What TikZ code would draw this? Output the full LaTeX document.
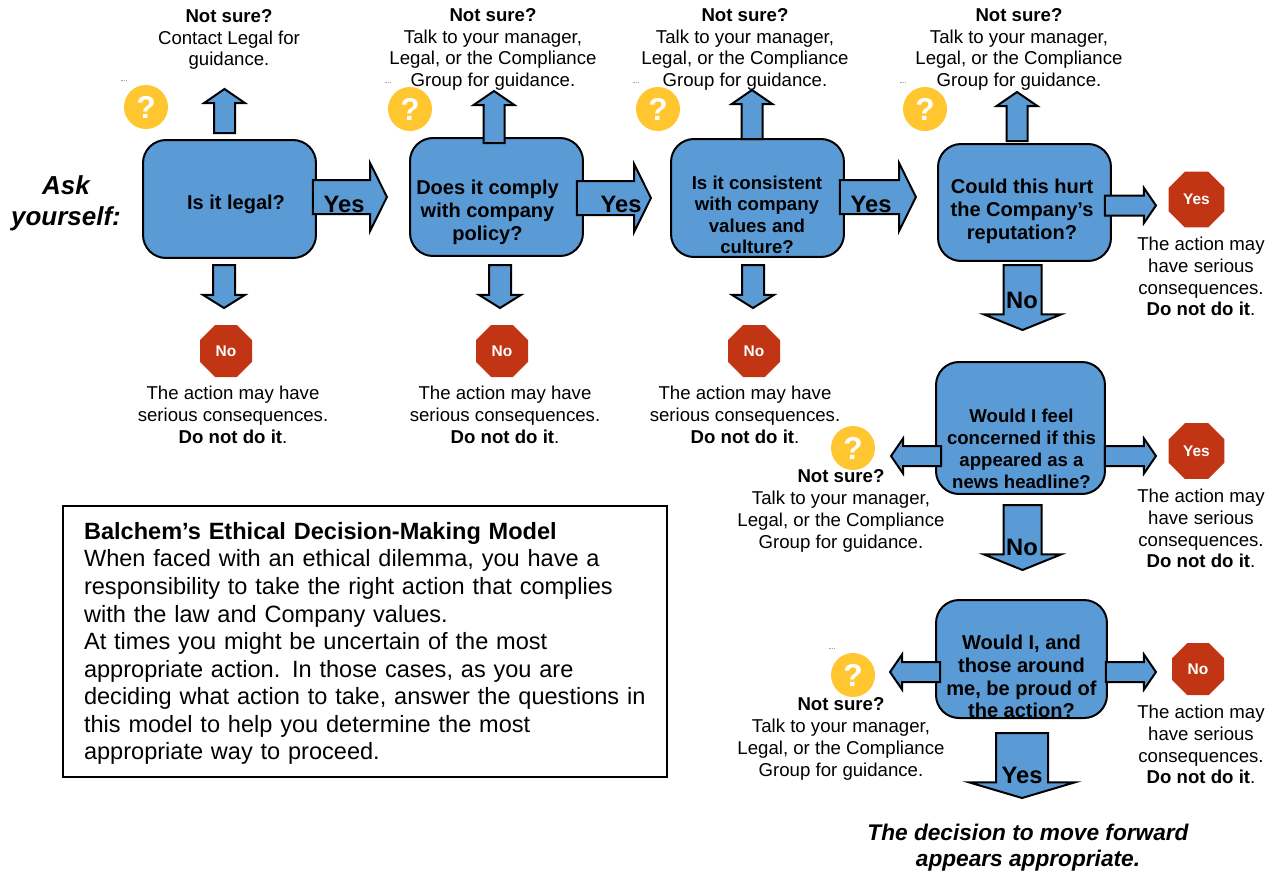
\documentclass[tikz,border=0pt]{standalone}
\usepackage{fontspec}
\setmainfont{Liberation Sans}
\usetikzlibrary{shapes.arrows,shapes.geometric}
\definecolor{boxblue}{HTML}{5B9BD5}
\definecolor{stopred}{HTML}{C23514}
\definecolor{askyellow}{HTML}{FFC62F}
\tikzset{
  question/.style={draw=black, line width=0.04cm, fill=boxblue, rounded corners=0.46cm, inner sep=0pt, outer sep=0pt},
  questiontext/.style={inner sep=0pt, align=center, font=\bfseries\fontsize{11.4}{13}\selectfont},
  blockarrow/.style n args={4}{shape=single arrow, draw=black, line width=0.04cm, fill=boxblue, inner sep=0pt, outer sep=0pt, anchor=tail,
    minimum height=#1*0.02cm, text height=#2*0.02cm, text depth=0pt, single arrow head extend=#3*0.02cm, single arrow tip angle=#4},
  yesarrow/.style={blockarrow={74}{32}{17}{127}},
  smallup/.style={blockarrow={44}{19}{10}{111}, rotate=90},
  smalldown/.style={blockarrow={43}{20}{10}{116}, rotate=-90},
  sidearrow/.style={blockarrow={50}{18}{7.5}{111}},
  noarrow/.style={blockarrow={65}{36}{20}{136}, rotate=-90},
  finalarrow/.style={blockarrow={65}{50}{26.5}{147}, rotate=-90},
  arrowlabel/.style={inner sep=0pt, font=\bfseries\fontsize{13.5}{15}\selectfont},
  askmark/.style={circle, fill=askyellow, minimum size=0.88cm, inner sep=0pt, text=white, font=\bfseries\fontsize{18}{20}\selectfont},
  stopsign/.style={regular polygon, regular polygon sides=8, fill=stopred, minimum size=1.126cm, inner sep=0pt, text=white, font=\bfseries\fontsize{8.8}{10}\selectfont},
  bigstop/.style={stopsign, minimum size=1.21cm},
  advice/.style={inner sep=0pt, align=center, font=\fontsize{10.6}{12.4}\selectfont},
  closing/.style={inner sep=0pt, align=center, font=\bfseries\itshape\fontsize{12.9}{14.8}\selectfont},
  tinymark/.style={draw=gray!70, line width=0.2pt, dash pattern=on 1pt off 0.5pt},
}
\newcommand{\notsurelong}{\textbf{Not sure?}\\Talk to your manager,\\Legal, or the Compliance\\Group for guidance.}
\newcommand{\conseqwide}{The action may have\\serious consequences.\\\textbf{Do not do it}.}
\newcommand{\conseqnarrow}{The action may\\have serious\\consequences.\\\textbf{Do not do it}.}
\begin{document}
\begin{tikzpicture}[x=0.02cm,y=-0.02cm]
  \useasboundingbox (0,0) rectangle (1278,873);
  \node[closing, font=\bfseries\itshape\fontsize{14.8}{17.6}\selectfont] (ask) at (66,203) {Ask\\yourself:};

  \node[question, minimum width=3.46cm, minimum height=2.36cm] (legal) at (229.5,199) {};
  \node[question, minimum width=3.46cm, minimum height=2.36cm] (policy) at (496.5,197) {};
  \node[question, minimum width=3.46cm, minimum height=2.36cm] (values) at (757.5,198) {};
  \node[question, minimum width=3.46cm, minimum height=2.34cm] (hurt) at (1024.5,202.5) {};
  \node[question, minimum width=3.38cm, minimum height=2.64cm] (news) at (1020.5,428) {};
  \node[question, minimum width=3.42cm, minimum height=2.36cm] (proud) at (1021.5,659) {};

  \node[questiontext] (legaltext) at (236,204) {Is it legal?};
  \node[questiontext] (policytext) at (487.5,212.5) {Does it comply\\with company\\policy?};
  \node[questiontext, font=\bfseries\fontsize{10.6}{12.2}\selectfont] (valuestext) at (757,215) {Is it consistent\\with company\\values and\\culture?};
  \node[questiontext] (hurttext) at (1022,211) {Could this hurt\\the Company's\\reputation?};
  \node[questiontext, font=\bfseries\fontsize{10.6}{12.5}\selectfont] (newstext) at (1021.5,449) {Would I feel\\concerned if this\\appeared as a\\news headline?};
  \node[questiontext] (proudtext) at (1021.5,676.5) {Would I, and\\those around\\me, be proud of\\the action?};

  \node[yesarrow] (legalyes) at ([shift={(-3,-2)}]legal.east) {};
  \node[yesarrow] (policyyes) at ([shift={(-6,1)}]policy.east) {};
  \node[yesarrow, minimum height=1.52cm] (valuesyes) at ([shift={(-4,-1)}]values.east) {};
  \node[sidearrow, minimum height=1.02cm] (hurtyes) at ([shift={(-6,3)}]hurt.east) {};
  \node[sidearrow, minimum height=1.02cm] (newsyes) at ([shift={(0,28)}]news.east) {};
  \node[sidearrow] (proudyes) at ([shift={(-1,13)}]proud.east) {};
  \node[sidearrow, rotate=180] (newsask) at ([shift={(5,28)}]news.west) {};
  \node[sidearrow, rotate=180] (proudask) at ([shift={(4,13)}]proud.west) {};

  \node[smallup] (legalup) at (224.5,133) {};
  \node[smallup, minimum height=1.04cm] (policyup) at (494,143) {};
  \node[smallup, minimum height=0.98cm] (valuesup) at (752,139) {};
  \node[smallup, minimum height=0.98cm] (hurtup) at (1017,141) {};
  \node[smalldown] (legaldown) at (224,265) {};
  \node[smalldown] (policydown) at (500,265) {};
  \node[smalldown] (valuesdown) at (753,265) {};
  \node[noarrow] (hurtno) at (1022.5,265) {};
  \node[noarrow] (newsno) at (1022.5,505) {};
  \node[finalarrow] (proudgo) at (1022,733) {};

  \node[arrowlabel] (legalyeslabel) at (344,204) {Yes};
  \node[arrowlabel] (policyyeslabel) at (621,204) {Yes};
  \node[arrowlabel] (valuesyeslabel) at (871,204) {Yes};
  \node[arrowlabel] (hurtnolabel) at (1022,300) {No};
  \node[arrowlabel] (newsnolabel) at (1022,547) {No};
  \node[arrowlabel] (proudgolabel) at (1022,775) {Yes};

  \node[askmark] (asklegal) at (146,107) {?};
  \node[askmark] (askpolicy) at (410,109) {?};
  \node[askmark] (askvalues) at (658,109) {?};
  \node[askmark] (askhurt) at (925,109) {?};
  \node[askmark] (asknews) at (853,448) {?};
  \node[askmark] (askproud) at (853,675) {?};
  \draw[tinymark] (121,80.5) -- ++(6,0);
  \draw[tinymark] (385,82) -- ++(6,0);
  \draw[tinymark] (633,82) -- ++(6,0);
  \draw[tinymark] (900,82) -- ++(6,0);
  \draw[tinymark] (829,648) -- ++(6,0);

  \node[stopsign] (stoplegal) at (226,351) {No};
  \node[stopsign] (stoppolicy) at (502,351) {No};
  \node[stopsign] (stopvalues) at (754,351) {No};
  \node[bigstop] (stophurt) at (1196.5,199.5) {Yes};
  \node[bigstop] (stopnews) at (1196.5,451) {Yes};
  \node[stopsign] (stopproud) at (1198,669) {No};

  \node[advice] (surelegal) at (229,39.5) {\textbf{Not sure?}\\Contact Legal for\\guidance.};
  \node[advice] (surepolicy) at (493,49.5) {\notsurelong};
  \node[advice] (surevalues) at (745,49.5) {\notsurelong};
  \node[advice] (surehurt) at (1019,49.5) {\notsurelong};
  \node[advice] (surenews) at (841,511) {\notsurelong};
  \node[advice] (sureproud) at (841,739) {\notsurelong};

  \node[advice] (badlegal) at (233,415) {\conseqwide};
  \node[advice] (badpolicy) at (505,415) {\conseqwide};
  \node[advice] (badvalues) at (745,415) {\conseqwide};
  \node[advice] (badhurt) at (1201,276.5) {\conseqnarrow};
  \node[advice] (badnews) at (1201,528.5) {\conseqnarrow};
  \node[advice] (badproud) at (1201,744.5) {\conseqnarrow};

  \node[closing] (forward) at (1028,848) {The decision to move forward\\appears appropriate.};

  \node[draw=black, line width=0.03cm, minimum width=12.08cm, minimum height=5.42cm, inner xsep=0.42cm, inner ysep=0pt, text width=11.24cm, align=left, font=\fontsize{13.4}{15.7}\selectfont] (model) at (365,641.5) {};
  \node[inner sep=0pt, text width=11.24cm, align=left, font=\fontsize{13.4}{15.7}\selectfont] (modeltext) at (365,643.5) {\textbf{Balchem’s Ethical Decision-Making Model}\\When faced with an ethical dilemma, you have a\\responsibility to take the right action that complies\\with the law and Company values.\\At times you might be uncertain of the most\\appropriate action. In those cases, as you are\\deciding what action to take, answer the questions in\\this model to help you determine the most\\appropriate way to proceed.};
\end{tikzpicture}
\end{document}
